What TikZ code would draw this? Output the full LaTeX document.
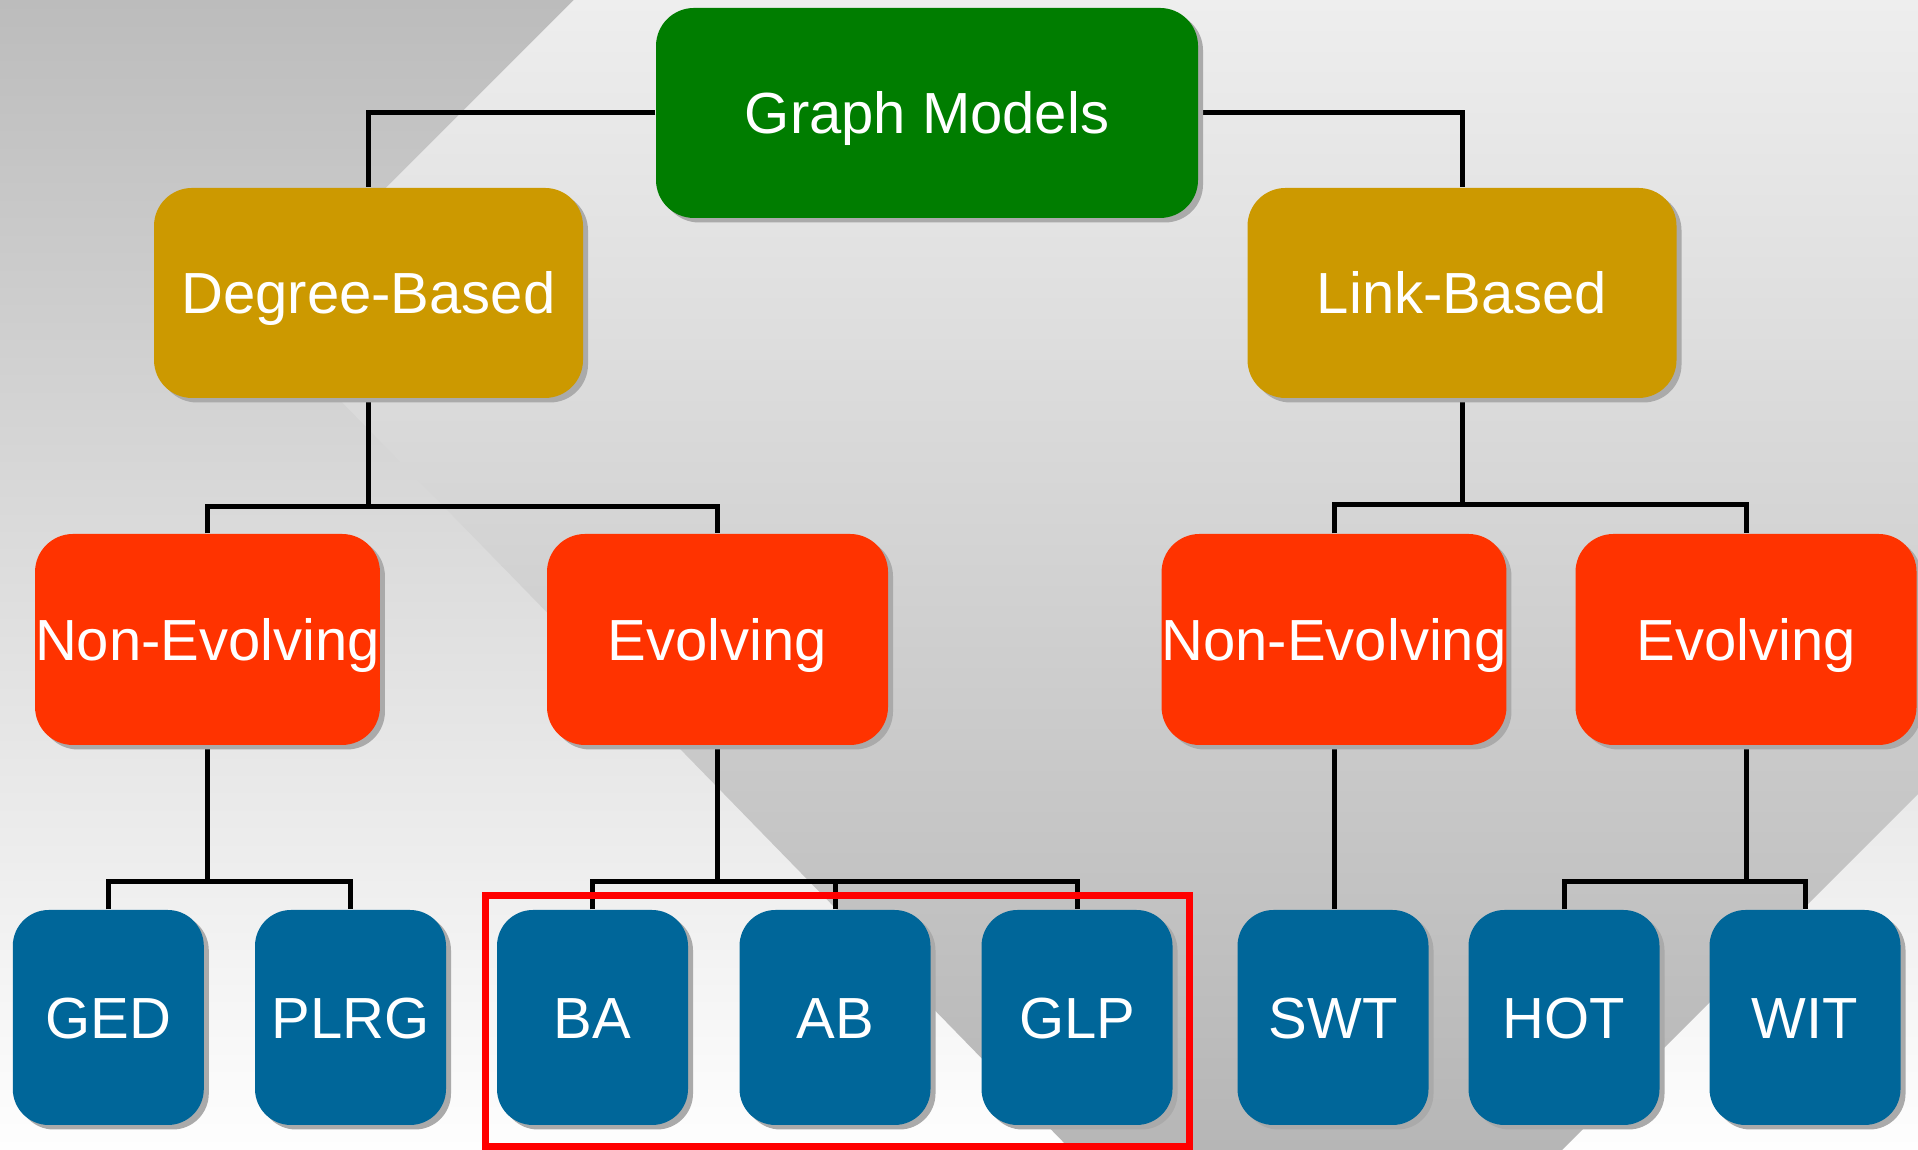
\documentclass[tikz,border=0pt]{standalone}
\usepackage{fontspec}
\setmainfont{Liberation Sans}
\usetikzlibrary{shadows}

\definecolor{gmgreen}{RGB}{0,125,0}
\definecolor{goldbox}{RGB}{204,153,0}
\definecolor{flamebox}{RGB}{255,51,0}
\definecolor{oceanbox}{RGB}{0,102,153}
\definecolor{shadowgrey}{RGB}{170,170,170}
\definecolor{bgtop}{RGB}{188,188,188}
\definecolor{bgbot}{RGB}{254,254,254}
\definecolor{bandtop}{RGB}{238,238,238}
\definecolor{bandbot}{RGB}{182,182,182}

\pgfdeclarelayer{back}
\pgfsetlayers{back,main}

\begin{document}
\begin{tikzpicture}[
  card/.style={rounded corners=0.38cm, inner sep=0pt, text=white,
    font=\fontsize{16.5}{19}\selectfont, text height=11.8pt, text depth=0pt,
    drop shadow={shadow xshift=0.05cm, shadow yshift=-0.045cm,
                 fill=shadowgrey, opacity=1}},
  rootbox/.style={card, fill=gmgreen, minimum width=5.42cm, minimum height=2.10cm},
  familybox/.style={card, fill=goldbox, minimum width=4.29cm, minimum height=2.10cm},
  kindbox/.style={card, fill=flamebox, minimum width=3.41cm, minimum height=2.11cm},
  modelbox/.style={card, fill=oceanbox, rounded corners=0.36cm,
    minimum width=1.91cm, minimum height=2.15cm},
  conn/.style={line width=0.05cm, black},
  focus/.style={draw=red, line width=0.07cm}
]
\useasboundingbox (0,0) rectangle (19.18,11.5);

% root
\node[rootbox] (gm) at (9.27,10.37) {Graph Models};

% model families
\node[familybox] (db) at (3.685,8.57) {Degree-Based};
\node[familybox] (lb) at (14.62,8.57) {Link-Based};

% evolving / non-evolving split
\node[kindbox] (nel) at (2.075,5.105) {Non-Evolving};
\node[kindbox] (evl) at (7.175,5.105) {Evolving};
\node[kindbox] (ner) at (13.34,5.105) {Non-Evolving};
\node[kindbox] (evr) at (17.46,5.105) {Evolving};

% individual generators
\node[modelbox] (ged)  at (1.083,1.325) {GED};
\node[modelbox] (plrg) at (3.505,1.325) {PLRG};
\node[modelbox] (ba)   at (5.925,1.325) {BA};
\node[modelbox] (ab)   at (8.35,1.325)  {AB};
\node[modelbox] (glp)  at (10.77,1.325) {GLP};
\node[modelbox] (swt)  at (13.33,1.325) {SWT};
\node[modelbox] (hot)  at (15.64,1.325) {HOT};
\node[modelbox] (wit)  at (18.05,1.325) {WIT};

% bus levels of the tree
\coordinate (busL) at (0,6.43);
\coordinate (busR) at (0,6.45);
\coordinate (busB) at (0,2.68);

\begin{pgfonlayer}{back}
  \begin{scope}
    \clip (0,0) rectangle (19.18,11.5);
    % backdrop: light-to-dark diagonal band over an inverse vertical gradient
    \shade[top color=bgtop, bottom color=bgbot] (0,0) rectangle (19.18,11.5);
    \shade[top color=bandtop, bottom color=bandbot]
      (5.74,11.5) -- (19.18,11.5) -- (19.18,3.56) -- (15.62,0)
      -- (10.71,0) -- (2.58,8.34) -- cycle;
  \end{scope}

  % connectors
  \draw[conn] (gm.west) -| (db.north);
  \draw[conn] (gm.east) -| (lb.north);

  \draw[conn] (db.south) -- (db.south |- busL);
  \draw[conn] (nel.north) |- (evl.north |- busL) -- (evl.north);
  \draw[conn] (lb.south) -- (lb.south |- busR);
  \draw[conn] (ner.north) |- (evr.north |- busR) -- (evr.north);

  \draw[conn] (nel.south) -- (nel.south |- busB);
  \draw[conn] (ged.north) |- (plrg.north |- busB) -- (plrg.north);
  \draw[conn] (evl.south) -- (evl.south |- busB);
  \draw[conn] (ba.north) |- (glp.north |- busB) -- (glp.north);
  \draw[conn] (ab.north) -- (ab.north |- busB);
  \draw[conn] (ner.south) -- (ner.south |- swt.north);
  \draw[conn] (evr.south) -- (evr.south |- busB);
  \draw[conn] (hot.north) |- (wit.north |- busB) -- (wit.north);
\end{pgfonlayer}

% highlighted group of evolving degree-based models
\draw[focus] (4.85,2.54) rectangle (11.89,0.035);
\end{tikzpicture}
\end{document}
